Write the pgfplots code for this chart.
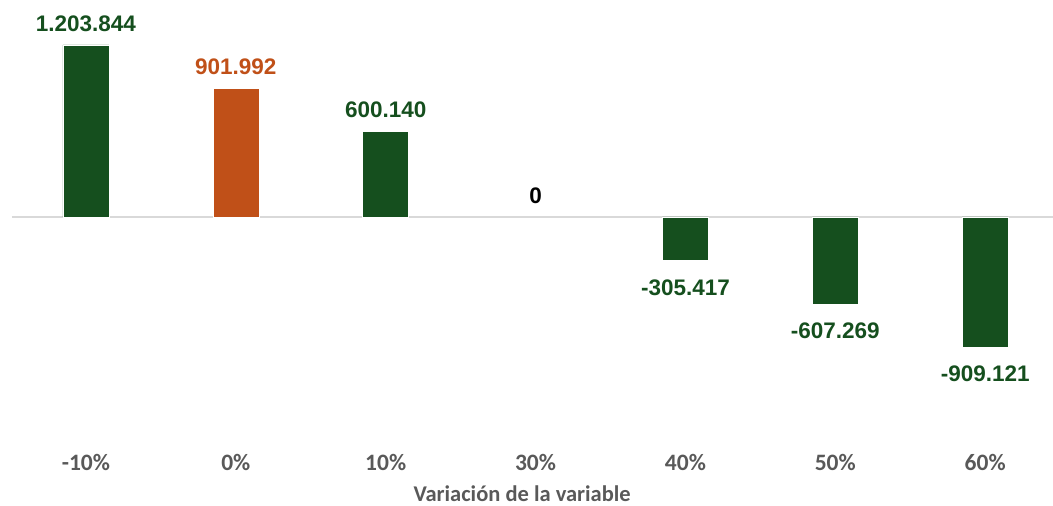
\documentclass[border=0pt]{standalone}
\usepackage{pgfplots}
\pgfplotsset{compat=1.18}
\usepackage{fontspec}
\setmainfont{Liberation Sans}
\newfontfamily\tickfont{Carlito}
\definecolor{verde}{HTML}{154F1E}
\definecolor{naranja}{HTML}{C05018}
\definecolor{gristick}{HTML}{595959}
\definecolor{cero}{HTML}{D9D9D9}

\begin{document}
\begin{tikzpicture}[x=1pt,y=1pt]
\path[use as bounding box] (-12,-66) rectangle (1041,440);
\begin{axis}[
  at={(0,0)}, anchor=south west,
  scale only axis,
  width=1041pt, height=440pt,
  xmin=-0.4933, xmax=6.453,
  ymin=-1560750, ymax=1518760,
  axis line style={draw=none},
  ybar, bar width=46pt, bar shift=0pt,
  xtick={0,...,6},
  xticklabels={-10\%,0\%,10\%,30\%,40\%,50\%,60\%},
  xticklabel style={font=\tickfont\bfseries\fontsize{23.5}{25}\selectfont, text=gristick, yshift=-11pt},
  ytick={0}, yticklabels={},
  ymajorgrids, grid style={cero, line width=1.6pt},
  major tick length=0pt,
  xlabel={Variación de la variable},
  xlabel style={font=\tickfont\bfseries\fontsize{22.5}{24}\selectfont, text=gristick,
    at={(axis description cs:0.49,0)}, anchor=center, yshift=-54pt},
  clip=false,
  nodes near coords,
  point meta=explicit symbolic,
  every node near coord/.append style={font=\bfseries\fontsize{22.5}{24}\selectfont, inner ysep=1pt},
]
% positivos (verde)
\addplot[fill=verde, draw=white, line width=0.4pt,
  every node near coord/.append style={text=verde, anchor=south, yshift=12pt}]
  table[meta=lab] {
x y lab
0 1203844 1.203.844
2 600140 600.140
};
% escenario base (naranja)
\addplot[fill=naranja, draw=white, line width=0.4pt,
  every node near coord/.append style={text=naranja, anchor=south, yshift=12pt}]
  table[meta=lab] {
x y lab
1 901992 901.992
};
% cero
\addplot[draw=none, fill=none,
  every node near coord/.append style={text=black, anchor=south, yshift=12pt}]
  table[meta=lab] {
x y lab
3 0 0
};
% negativos (verde)
\addplot[fill=verde, draw=white, line width=0.4pt,
  every node near coord/.append style={text=verde, anchor=north, yshift=-18pt}]
  table[meta=lab] {
x y lab
4 -305417 -305.417
5 -607269 -607.269
6 -909121 -909.121
};
\end{axis}
\end{tikzpicture}
\end{document}
